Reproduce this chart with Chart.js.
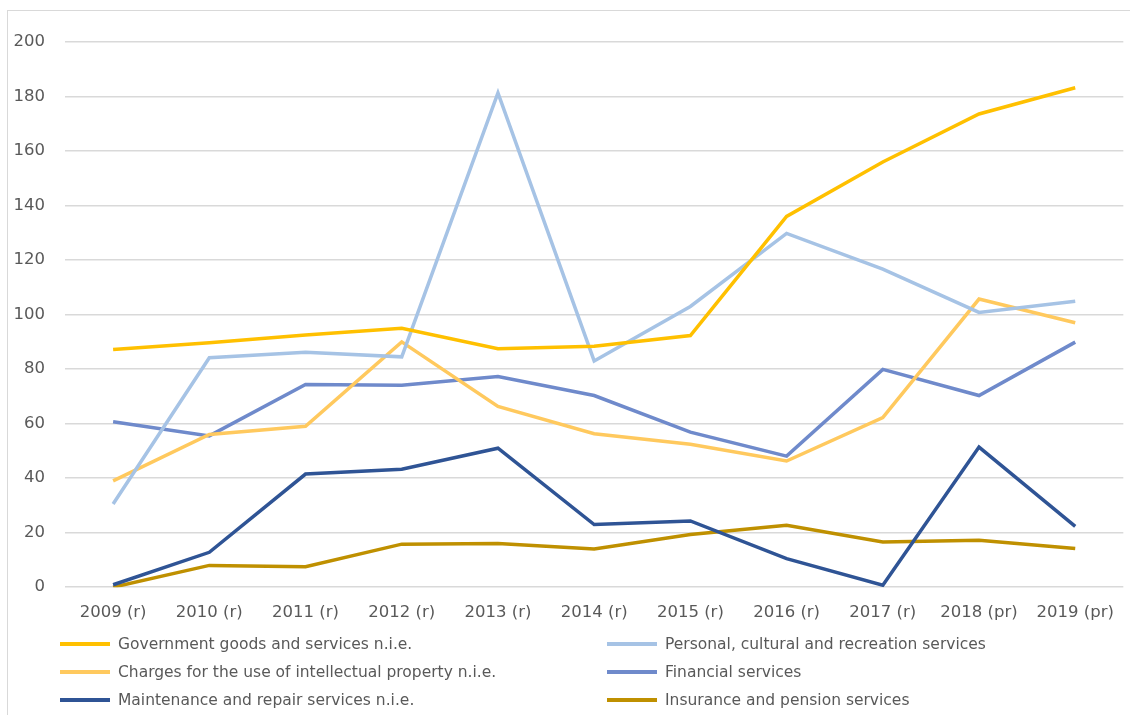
<!DOCTYPE html>
<html>
<head>
<meta charset="utf-8">
<script src="https://cdn.jsdelivr.net/npm/chart.js@4/dist/chart.umd.min.js"></script>
<style>
  body { margin: 0; background: #fff; overflow: hidden; }
  #wrap { position: relative; width: 1130px; height: 715px; overflow: hidden; font-family: "DejaVu Sans", sans-serif; }
  #frame { position: absolute; left: 7px; top: 10px; right: 0; bottom: 0; border-left: 1.5px solid #d9d9d9; border-top: 1.5px solid #d9d9d9; }
  #chartBox { position: absolute; left: 0; top: 0; width: 1130px; height: 647px; }
  #legend { position: absolute; left: 60px; top: 630px; width: 1070px; display: grid; grid-template-columns: 547px 500px; row-gap: 0; }
  .item { display: flex; align-items: center; height: 28px; color: #595959; font-size: 15.5px; }
  .swatch { width: 50px; height: 3.5px; margin-right: 8px; }
</style>
</head>
<body>
<div id="wrap">
  <div id="frame"></div>
  <div id="chartBox"><canvas id="grafico"></canvas></div>
  <div id="legend"></div>
</div>
<script>
  const anos = ["2009 (r)", "2010 (r)", "2011 (r)", "2012 (r)", "2013 (r)", "2014 (r)",
    "2015 (r)", "2016 (r)", "2017 (r)", "2018 (pr)", "2019 (pr)"];

  const governo = [87.2, 89.7, 92.5, 95, 87.5, 88.4, 92.3, 136, 156, 173.6, 183.2];
  const pessoais = [30.5, 84.2, 86.2, 84.5, 181.3, 83, 103, 129.8, 116.7, 100.8, 104.9];
  const propriedade = [39, 56, 59, 90, 66.3, 56.3, 52.4, 46.3, 62.2, 105.7, 97];
  const financeiros = [60.7, 55.5, 74.4, 74.1, 77.3, 70.3, 56.9, 48.1, 79.9, 70.3, 89.9];
  const manutencao = [0.9, 12.8, 41.5, 43.3, 51, 23, 24.3, 10.5, 0.7, 51.4, 22.3];
  const seguros = [0, 8, 7.5, 15.8, 16, 14, 19.3, 22.7, 16.6, 17.2, 14.2];

  const series = [
    { label: "Government goods and services n.i.e.", data: governo, cor: "#FFC000" },
    { label: "Personal, cultural and recreation services", data: pessoais, cor: "#A6C3E5" },
    { label: "Charges for the use of intellectual property n.i.e.", data: propriedade, cor: "#FFC95E" },
    { label: "Financial services", data: financeiros, cor: "#6F8ACB" },
    { label: "Maintenance and repair services n.i.e.", data: manutencao, cor: "#2F5495" },
    { label: "Insurance and pension services", data: seguros, cor: "#BF9000" },
  ];

  const fonte = { family: "'DejaVu Sans', sans-serif", size: 16.5 };

  const chart = new Chart(document.getElementById("grafico"), {
    type: "line",
    data: {
      labels: anos,
      datasets: series.map((s) => ({
        label: s.label,
        data: s.data,
        borderColor: s.cor,
        backgroundColor: s.cor,
        borderWidth: 3.5,
        pointRadius: 0,
        tension: 0,
      })),
    },
    options: {
      responsive: true,
      maintainAspectRatio: false,
      animation: false,
      layout: { padding: { top: 42, right: 2, bottom: 8, left: 0 } },
      plugins: { legend: { display: false }, tooltip: { enabled: false } },
      scales: {
        x: {
          offset: true,
          grid: { display: false, drawTicks: false },
          border: { display: false },
          ticks: { color: "#595959", font: fonte, padding: 16, maxRotation: 0, autoSkip: false },
        },
        y: {
          min: 0,
          max: 200,
          afterFit: (scale) => { scale.width = 65; },
          grid: { color: "#D9D9D9", lineWidth: 1.5, drawTicks: false },
          border: { display: false },
          ticks: { stepSize: 20, color: "#595959", font: fonte, padding: 20 },
        },
      },
    },
  });

  // Legenda em duas colunas, montada a partir dos datasets
  const legenda = document.getElementById("legend");
  chart.data.datasets.forEach((ds) => {
    const item = document.createElement("div");
    item.className = "item";
    item.innerHTML = `<span class="swatch" style="background:${ds.borderColor}"></span><span>${ds.label}</span>`;
    legenda.appendChild(item);
  });
</script>
</body>
</html>
